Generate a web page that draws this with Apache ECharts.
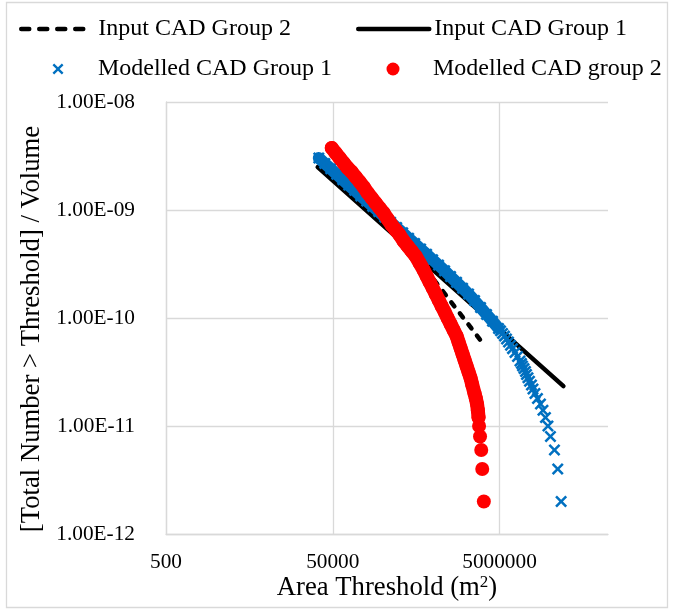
<!DOCTYPE html>
<html>
<head>
<meta charset="utf-8">
<script src="https://cdn.jsdelivr.net/npm/echarts@6/dist/echarts.min.js"></script>
<style>
  html, body { margin: 0; padding: 0; background: #ffffff; }
  #chart { width: 673px; height: 611px; }
</style>
</head>
<body>
<div id="chart"></div>
<script>
// Area-threshold exceedance densities for the two CAD groups (log-log).
const FONT = '"Liberation Serif", "Times New Roman", Times, serif';

// Axis ticks
const xTicks = [500, 50000, 5000000];

// Input CAD power laws (end points of each fitted line)
const input1Area = [33000, 29200000];
const input1Density = [2.50e-9, 2.34e-11];
const input2Area = [48600, 3210000];
const input2Density = [3.83e-9, 5.74e-11];

// Modelled CAD Group 1: area threshold (m2) and [number > threshold] / volume
const g1Area = [
  34000, 40100, 47300, 55800, 65900, 77700, 91700, 108200, 127700, 150700,
  177800, 209800, 247500, 292000, 344500, 406600, 479700, 565900, 667700, 787800,
  929800, 1097000, 1294000, 1528000, 1803000, 2127000, 2509000, 2961000, 3493000, 4122000,
  4864000, 5139000, 5431000, 5739000, 6064000, 6408000, 6771000, 7155000, 7665000, 8212000,
  8799000, 9170000, 9427000, 9826000, 10240000, 10530000, 10970000, 11440000, 12080000, 12600000,
  13310000, 14260000, 15490000, 16600000, 17780000, 19050000, 20410000, 22790000, 24960000, 27410000
];
const g1Density = [
  3.03e-9, 2.70e-9, 2.41e-9, 2.14e-9, 1.91e-9, 1.70e-9, 1.52e-9, 1.35e-9, 1.21e-9, 1.08e-9,
  9.66e-10, 8.63e-10, 7.71e-10, 6.89e-10, 6.15e-10, 5.49e-10, 4.90e-10, 4.36e-10, 3.89e-10, 3.47e-10,
  3.09e-10, 2.74e-10, 2.42e-10, 2.14e-10, 1.89e-10, 1.67e-10, 1.45e-10, 1.25e-10, 1.08e-10, 9.32e-11,
  8.0e-11, 7.6e-11, 7.2e-11, 6.8e-11, 6.4e-11, 6.0e-11, 5.6e-11, 5.2e-11, 4.8e-11, 4.4e-11,
  4.0e-11, 3.8e-11, 3.6e-11, 3.4e-11, 3.2e-11, 3.0e-11, 2.8e-11, 2.6e-11, 2.4e-11, 2.2e-11,
  2.0e-11, 1.8e-11, 1.6e-11, 1.4e-11, 1.2e-11, 1.0e-11, 8e-12, 6e-12, 4e-12, 2e-12
];

// Modelled CAD group 2
const g2Area = [
  48640, 54310, 60640, 67710, 75600, 84410, 94250, 105300, 117500, 131300,
  146600, 163600, 182700, 204000, 227800, 254400, 284000, 317100, 354100, 395400,
  441500, 492900, 550400, 614600, 667800, 725600, 788400, 856700, 930800, 1010000,
  1098000, 1192000, 1295000, 1407000, 1529000, 1614000, 1706000, 1803000, 1905000, 2013000,
  2127000, 2247000, 2342000,
  2509000, 2601000, 2688000, 2748000, 2802000, 2841000, 2920000, 3018000, 3103000, 3243000
];
const g2Density = [
  3.75e-9, 3.37e-9, 3.03e-9, 2.72e-9, 2.45e-9, 2.25e-9, 2.02e-9, 1.82e-9, 1.63e-9, 1.44e-9,
  1.29e-9, 1.16e-9, 1.04e-9, 9.38e-10, 8.25e-10, 7.26e-10, 6.53e-10, 5.87e-10, 5.16e-10, 4.64e-10,
  4.17e-10, 3.75e-10, 3.23e-10, 2.78e-10, 2.45e-10, 2.15e-10, 1.90e-10, 1.67e-10, 1.47e-10, 1.29e-10,
  1.14e-10, 1.00e-10, 8.80e-11, 7.74e-11, 6.81e-11, 6.00e-11, 5.28e-11, 4.64e-11, 4.08e-11, 3.59e-11,
  3.16e-11, 2.78e-11, 2.45e-11,
  2.0e-11, 1.8e-11, 1.6e-11, 1.4e-11, 1.2e-11, 1.0e-11, 8e-12, 6e-12, 4e-12, 2e-12
];

const BLUE = '#0070C0';
const RED = '#FF0000';
const GRID = '#d9d9d9';
const LINE_W = 4.5;
const DASH = [8, 10];

const zip = (a, b) => a.map((v, i) => [v, b[i]]);
const input1 = zip(input1Area, input1Density);
const input2 = zip(input2Area, input2Density);
const g1 = zip(g1Area, g1Density);
const g2 = zip(g2Area, g2Density);
// the densely packed part of each point cloud reads as a solid band
const g1Band = g1.filter(p => p[1] >= 8e-11);
const g2Band = g2.filter(p => p[1] >= 1.2e-11);

const crossPath = 'path://M0,1.5L1.5,0L5,3.5L8.5,0L10,1.5L6.5,5L10,8.5L8.5,10L5,6.5L1.5,10L0,8.5L3.5,5Z';

function sciLabel(v) {
  const e = Math.round(Math.log10(v));
  const m = v / Math.pow(10, e);
  return m.toFixed(2) + 'E' + (e < 0 ? '-' : '+') + String(Math.abs(e)).padStart(2, '0');
}

const legendText = { fontFamily: FONT, fontSize: 24, color: '#000', lineHeight: 26 };

// line entries: the icon spans the whole item width, no marker in the middle
function lineLegend(name, left, top, w, dash) {
  return {
    data: [name], left: left, top: top, itemWidth: w, itemHeight: 14,
    padding: 0, itemGap: 0, selectedMode: false,
    itemStyle: { opacity: 0 },
    lineStyle: { width: LINE_W, type: dash || 'solid', cap: 'round', color: '#000' },
    textStyle: legendText
  };
}
// marker entries: square icon, text pushed right to the common column
function markerLegend(name, centerX, top, size, textLeft) {
  const left = centerX - size / 2;
  return {
    data: [name], left: left, top: top, itemWidth: size, itemHeight: size,
    padding: 0, itemGap: 0, selectedMode: false,
    textStyle: Object.assign({}, legendText, { padding: [0, 0, 0, textLeft - (left + size + 5)] })
  };
}

const chart = echarts.init(document.getElementById('chart'), null, { renderer: 'canvas' });

chart.setOption({
  animation: false,
  backgroundColor: '#ffffff',
  legend: [
    lineLegend('Input CAD Group 2', 19, 16, 72, DASH),
    lineLegend('Input CAD Group 1', 356, 16, 71),
    markerLegend('Modelled CAD Group 1', 58, 56, 11, 98),
    markerLegend('Modelled CAD group 2', 393, 56, 13, 433)
  ],
  grid: { left: 166, right: 65, top: 102, bottom: 77 },
  xAxis: {
    type: 'log', logBase: 10, min: 500, max: 1e8,
    axisLine: { show: true, lineStyle: { color: GRID, width: 1.3 } },
    axisTick: { show: false, customValues: xTicks },
    minorTick: { show: false },
    axisLabel: {
      customValues: xTicks,
      formatter: v => String(Math.round(v)),
      fontFamily: FONT, fontSize: 21.3, color: '#000', margin: 18
    },
    splitLine: { show: true, lineStyle: { color: GRID, width: 1.3 } }
  },
  yAxis: {
    type: 'log', logBase: 10, min: 1e-12, max: 1e-8,
    axisLine: { show: true, lineStyle: { color: GRID, width: 1.3 } },
    axisTick: { show: false },
    minorTick: { show: false },
    axisLabel: {
      formatter: sciLabel,
      fontFamily: FONT, fontSize: 21.3, color: '#000', margin: 31
    },
    splitLine: { show: true, lineStyle: { color: GRID, width: 1.3 } }
  },
  series: [
    {
      name: 'Input CAD Group 1', type: 'line', data: input1, symbol: 'none',
      lineStyle: { color: '#000', width: LINE_W, cap: 'round' },
      itemStyle: { color: '#000' }, emphasis: { disabled: true }, z: 2
    },
    {
      name: 'Input CAD Group 2', type: 'line', data: input2, symbol: 'none',
      lineStyle: { color: '#000', width: LINE_W, type: [5, 9], cap: 'round' },
      itemStyle: { color: '#000' }, emphasis: { disabled: true }, z: 2
    },
    {
      type: 'line', data: g1Band, symbol: 'none', silent: true,
      lineStyle: { color: BLUE, width: 12, cap: 'round', join: 'round' },
      emphasis: { disabled: true }, z: 3
    },
    {
      name: 'Modelled CAD Group 1', type: 'scatter', data: g1,
      symbol: crossPath, symbolSize: 12,
      itemStyle: { color: BLUE, opacity: 1 }, emphasis: { disabled: true }, z: 3
    },
    {
      type: 'line', data: g2Band, symbol: 'none', silent: true,
      lineStyle: { color: RED, width: 14, cap: 'round', join: 'round' },
      emphasis: { disabled: true }, z: 4
    },
    {
      name: 'Modelled CAD group 2', type: 'scatter', data: g2,
      symbol: 'circle', symbolSize: 14,
      itemStyle: { color: RED, opacity: 1 }, emphasis: { disabled: true }, z: 4
    }
  ],
  graphic: [
    {
      type: 'rect', silent: true,
      shape: { x: 6.5, y: 2.5, width: 661, height: 605 },
      style: { fill: 'none', stroke: GRID, lineWidth: 1.3 }
    },
    {
      type: 'text', silent: true, x: 32, y: 329, rotation: Math.PI / 2,
      style: {
        text: '[Total Number > Threshold] / Volume',
        fontFamily: FONT, fontSize: 26.7, fill: '#000',
        align: 'center', verticalAlign: 'middle'
      }
    },
    {
      type: 'text', silent: true, x: 387, y: 588,
      style: {
        text: '{a|Area Threshold (m}{s|2}{a|)}',
        rich: {
          a: { fontFamily: FONT, fontSize: 26.7, fill: '#000' },
          s: { fontFamily: FONT, fontSize: 17, fill: '#000', verticalAlign: 'top' }
        },
        align: 'center', verticalAlign: 'middle'
      }
    }
  ]
});
</script>
</body>
</html>
